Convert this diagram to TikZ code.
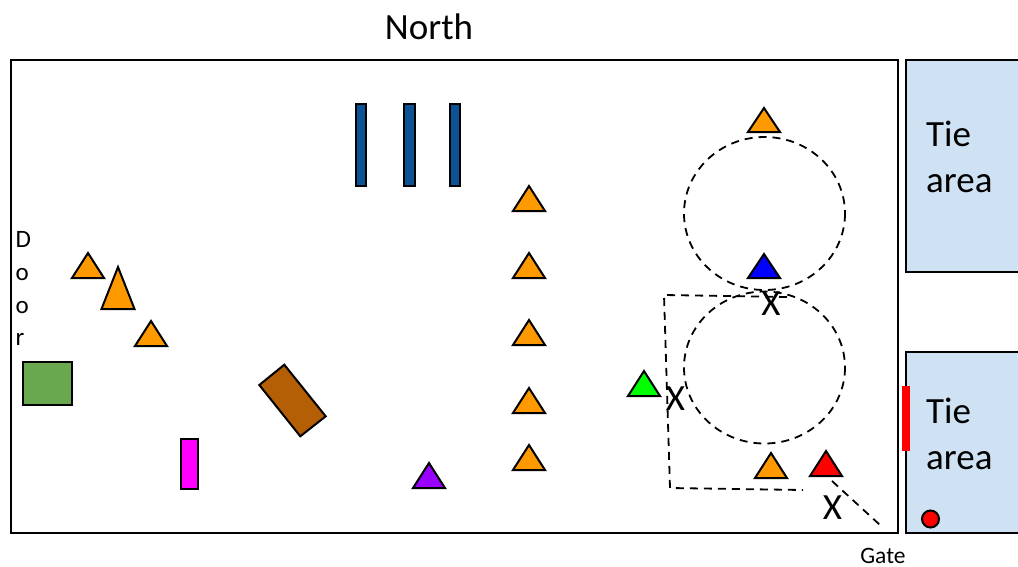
\documentclass[tikz,border=0pt]{standalone}
\usepackage{fontspec}
\setmainfont{Carlito}
\tikzset{
  x=1pt,y=-1pt,
  shape outline/.style={draw=black,line width=2pt,line join=miter},
  big/.style={font=\fontsize{37}{37}\selectfont,inner sep=0pt,anchor=base},
  bigleft/.style={big,anchor=base west},
  small/.style={font=\fontsize{25}{25}\selectfont,inner sep=0pt,anchor=base west},
  gatetext/.style={font=\fontsize{23.5}{23.5}\selectfont,inner sep=0pt,anchor=base},
  route/.style={draw=black,line width=1.8pt,dash pattern=on 8pt off 6pt},
  ring/.style={draw=black,line width=1.8pt,dash pattern=on 8pt off 6pt},
  bar/.style={shape outline,fill=barblue},
}
\definecolor{triorange}{HTML}{FF9900}
\definecolor{barblue}{HTML}{0B5394}
\definecolor{tieblue}{HTML}{CFE2F3}
\definecolor{mygreen}{HTML}{6AA84F}
\definecolor{mybrown}{HTML}{B45F06}
\definecolor{mymagenta}{HTML}{FF00FF}
\definecolor{mypurple}{HTML}{9900FF}
\definecolor{mygreenb}{HTML}{00FF00}
\definecolor{myblue}{HTML}{0000FF}
\definecolor{myred}{HTML}{FF0000}
\newcommand{\tri}[5]{\draw[shape outline,fill=#5] (#1,#2) -- ({#1+#3},#4) -- ({#1-#3},#4) -- cycle;}
\begin{document}
\begin{tikzpicture}
\useasboundingbox (0,0) rectangle (1018,566);
% main room
\draw[draw=black,line width=2pt] (11,60) rectangle (898,533);
% tie areas
\fill[tieblue] (906,60) rectangle (1018,272);
\draw[line width=2pt] (1018,60) -- (906,60) -- (906,272) -- (1018,272);
\fill[tieblue] (906,352) rectangle (1018,533);
\draw[line width=2pt] (1018,352) -- (906,352) -- (906,533) -- (1018,533);
\fill[myred] (902,386) rectangle (910,451);
\draw[shape outline,fill=myred] (930.5,519) circle (8.5);
% blue bars
\draw[bar] (355.5,103.5) rectangle (365.5,186);
\draw[bar] (404,103.5) rectangle (414.5,186);
\draw[bar] (449.5,103.5) rectangle (460,186);
% rings and routes
\draw[ring] (764.5,213.5) ellipse (80.5 and 76.5);
\draw[ring] (764.5,367.5) ellipse (80.5 and 76);
\coordinate (r1) at (787,297);
\coordinate (r2) at (664,295);
\coordinate (r3) at (670,488);
\coordinate (r4) at (803,490);
\draw[route] (r1) -- (r2) -- (r3) -- (r4);
\coordinate (g1) at (832,481);
\coordinate (g2) at (880,525);
\draw[route] (g1) -- (g2);
% triangles
\tri{764}{108}{16}{132}{triorange}
\tri{529}{186}{16}{211}{triorange}
\tri{529}{253}{16}{278}{triorange}
\tri{529}{320}{16}{345}{triorange}
\tri{529}{388}{16}{413}{triorange}
\tri{529}{445}{16}{470}{triorange}
\tri{771}{453}{16}{478}{triorange}
\tri{88}{253}{16}{278}{triorange}
\tri{118}{267}{16.5}{309}{triorange}
\tri{151}{321}{16}{346}{triorange}
\tri{764}{254}{16}{278}{myblue}
\tri{644}{371}{16}{396}{mygreenb}
\tri{826}{451}{16}{476}{myred}
\tri{429}{463}{16}{488}{mypurple}
% rectangles
\draw[shape outline,fill=mygreen] (22.5,362) rectangle (72,405);
\draw[shape outline,fill=mybrown] (284.3,364.7) -- (325.7,416.3) -- (300.3,436.3) -- (259.3,385) -- cycle;
\draw[shape outline,fill=mymagenta] (181,439) rectangle (198,489);
% labels
\node[big] (north) at (429,39) {North};
\node[bigleft] (tie1) at (926,146) {Tie};
\node[bigleft] (area1) at (926,192) {area};
\node[bigleft] (tie2) at (926,423) {Tie};
\node[bigleft] (area2) at (926,469) {area};
\node[big] (x1) at (771,315) {X};
\node[big] (x2) at (675.5,410) {X};
\node[big] (x3) at (832.5,519) {X};
\node[small] (d1) at (15.5,247) {D};
\node[small] (d2) at (15.5,280) {o};
\node[small] (d3) at (15.5,313) {o};
\node[small] (d4) at (15.5,345) {r};
\node[gatetext] (gate) at (883,563) {Gate};
\end{tikzpicture}
\end{document}
